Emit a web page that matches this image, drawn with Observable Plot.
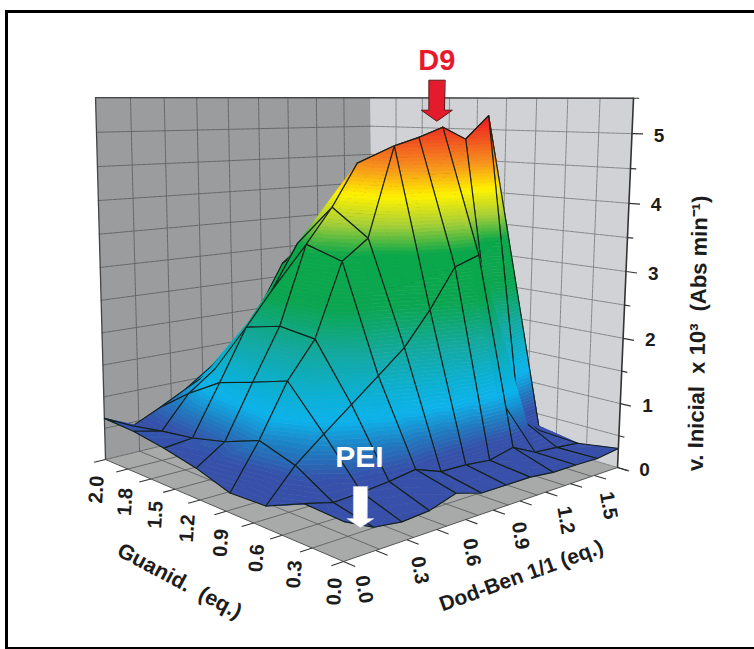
<!DOCTYPE html>
<html>
<head>
<meta charset="utf-8">
<style>html,body{margin:0;padding:0;background:#fff}svg{display:block}</style>
<script src="https://cdn.jsdelivr.net/npm/d3@7"></script>
<script src="https://cdn.jsdelivr.net/npm/@observablehq/plot@0.6"></script>
</head>
<body>
<div id="chart"></div>
<script>
// v. Inicial x 10^3; rows = Guanid. positions, columns = Dod-Ben positions
const zG0 = [.50,.31,.26,.29,.41,.30,.30,.30,.26,.26,.25,.30];
const zG1 = [.53,.43,.45,.49,.55,.41,.40,.36,.45,.27,.24,.20];
const zG2 = [.30,.74,1.07,1.39,1.71,2.04,2.52,3.09,3.22,1.00,.55,.23];
const zG3 = [.28,.91,1.66,2.18,3.23,3.52,4.82,4.93,5.07,4.88,5.23,3.38];
const zG4 = [.44,.72,1.50,2.25,3.40,3.91,4.54,4.60,4.60,4.30,4.30,2.80];
const zG5 = [.55,.60,1.35,2.12,2.63,3.30,3.45,3.90,4.10,4.10,3.90,2.50];
const zG6 = [.63,.53,1.03,1.34,1.74,2.28,2.93,3.15,3.40,3.60,3.50,2.20];
const zG7 = [.66,.44,.64,.86,1.15,1.49,2.00,2.72,3.05,3.30,3.50,2.00];
const guanidLabels = ["0.0","0.3","0.6","0.9","1.2","1.5","1.8","2.0"];
const dodLabels = ["0.0","0.3","0.6","0.9","1.2","1.5"];
const zTicks = [0,1,2,3,4,5];
const zTop = 5.5;
const colorStops = [0,.6,.85,1.2,1.5,2.0,2.6,3.3,3.7,4.1,4.5,5.2];
const colorRange = ["#3a4ea8","#3651ab","#2276bd","#0bb3ec","#0bb0d4","#12a99f","#0aa650","#0aa84a","#a9cf38","#fff200","#f7941d","#ed1c24"];

const rows = [zG0,zG1,zG2,zG3,zG4,zG5,zG6,zG7];
const nG = rows.length-1, nJ = rows[0].length-1;

// oblique perspective view of the (guanid, dod, v) box
function project(g,j,z){
  const u=j/nJ, v=g/nG, w=1+.2058*u+.215*v;
  const fx=(401*u-215.4*v+343)/w;
  const K=561+2.1*u-3.3*v, A=84.3-3.3*u-4.3*v;
  const f=z*(.94+.0108*z);
  return {x:fx+(8+8*u-18*v)*z/zTop, y:(K-A*f)/w, z};
}
function clip(poly,level,keepAbove){
  const out=[];
  for(let i=0;i<poly.length;i++){
    const a=poly[i],b=poly[(i+1)%poly.length];
    const ia=keepAbove?a.z>=level:a.z<=level, ib=keepAbove?b.z>=level:b.z<=level;
    if(ia) out.push(a);
    if(ia!==ib){const t=(level-a.z)/(b.z-a.z);out.push({x:a.x+t*(b.x-a.x),y:a.y+t*(b.y-a.y),z:level});}
  }
  return out;
}
const step=.05;
let uid=0;
function bands(tri,rowsOut){
  const lo=Math.floor(d3.min(tri,d=>d.z)/step), hi=Math.ceil(d3.max(tri,d=>d.z)/step);
  for(let b=lo;b<hi;b++){
    const a0=b*step,a1=(b+1)*step;
    let p=clip(tri,a0,true); if(p.length) p=clip(p,a1,false);
    if(p.length>2){const id=uid++;const zm=a0+step/2;p.forEach(q=>rowsOut.push({x:q.x,y:q.y,id,zm}));}
  }
}
const line=(pts,o={})=>Plot.line(pts,{x:"x",y:"y",...o});
const poly=(corners,fill)=>line(corners.map(c=>project(...c)),{fill,stroke:"none"});

const marks=[];
// walls and floor
marks.push(poly([[nG,0,0],[nG,nJ,0],[nG,nJ,zTop],[nG,0,zTop]],"#9a9c9d"));
marks.push(poly([[nG,nJ,0],[0,nJ,0],[0,nJ,zTop],[nG,nJ,zTop]],"#d0d2d5"));
marks.push(poly([[0,0,0],[0,nJ,0],[nG,nJ,0],[nG,0,0]],"#a8aaa9"));
const gridZ=d3.range(0,zTop+.01,.5), gridN=d3.range(1,9);
for(const z of gridZ){
  marks.push(line([project(nG,0,z),project(nG,nJ,z)],{stroke:"#5f6162",strokeWidth:.9,strokeDasharray:"4 1"}));
  marks.push(line([project(nG,nJ,z),project(0,nJ,z)],{stroke:"#7d7f80",strokeWidth:.9,strokeDasharray:"4 1"}));
}
for(const i of gridN){
  marks.push(line([project(nG,i/9*nJ,0),project(nG,i/9*nJ,zTop)],{stroke:"#5f6162",strokeWidth:.9,strokeDasharray:"4 1"}));
  marks.push(line([project(i/9*nG,nJ,0),project(i/9*nG,nJ,zTop)],{stroke:"#7d7f80",strokeWidth:.9,strokeDasharray:"4 1"}));
  marks.push(line([project(nG,i/9*nJ,0),project(0,i/9*nJ,0)],{stroke:"#5f6162",strokeWidth:.9}));
  marks.push(line([project(i/9*nG,nJ,0),project(i/9*nG,0,0)],{stroke:"#5f6162",strokeWidth:.9}));
}
// box edges
marks.push(line([project(nG,0,0),project(nG,0,zTop),project(nG,nJ,zTop),project(0,nJ,zTop)],{stroke:"#444",strokeWidth:1.3}));
marks.push(line([project(nG,0,0),project(0,0,0),project(0,nJ,0)],{stroke:"#555",strokeWidth:1}));
// surface, back to front
for(let g=nG-1;g>=0;g--){
  for(let j=nJ-1;j>=0;j--){
    const P=(a,b)=>project(a,b,rows[a][b]);
    const a=P(g,j),b=P(g,j+1),c=P(g+1,j+1),d=P(g+1,j);
    const cells=[];
    bands([c,d,b],cells); bands([a,b,d],cells);
    marks.push(Plot.line(cells,{x:"x",y:"y",z:"id",fill:"zm",stroke:"zm",strokeWidth:.7}));
    marks.push(line([a,b,c,d,a],{stroke:"#14201a",strokeWidth:1.15,strokeLinejoin:"round"}));
  }
}
// axes
const txt={fontFamily:"Liberation Sans, Arial, sans-serif",fontWeight:"bold",fill:"#1c1c1c"};
const zAll=d3.range(0,zTop+.01,.5);
marks.push(line([project(0,nJ,0),project(0,nJ,zTop)],{stroke:"#333",strokeWidth:1.6}));
marks.push(Plot.link(zAll,{x1:z=>project(0,nJ,z).x,y1:z=>project(0,nJ,z).y,
  x2:z=>project(Number.isInteger(z)?-.25:-.13,nJ,z).x,y2:z=>project(Number.isInteger(z)?-.25:-.13,nJ,z).y,stroke:"#333",strokeWidth:1.2}));
marks.push(Plot.text(zTicks,{x:z=>project(0,nJ,z).x,y:z=>project(0,nJ,z).y,text:z=>String(z),dx:27,dy:2,fontSize:19,...txt}));
const gTicks=d3.range(0,10).map(i=>i/9*nG), jTicks=d3.range(0,11).map(i=>i/10*nJ);
marks.push(Plot.link(gTicks,{x1:g=>project(g,0,0).x,y1:g=>project(g,0,0).y,x2:g=>project(g,-.4,0).x,y2:g=>project(g,-.4,0).y,stroke:"#333",strokeWidth:1.1}));
marks.push(Plot.link(jTicks,{x1:j=>project(0,j,0).x,y1:j=>project(0,j,0).y,x2:j=>project(-.28,j,0).x,y2:j=>project(-.28,j,0).y,stroke:"#333",strokeWidth:1.1}));
marks.push(Plot.text(guanidLabels,{x:(d,i)=>project(i,0,0).x,y:(d,i)=>project(i,0,0).y,text:d=>d,dx:-9,dy:30,rotate:-86,fontSize:20,...txt}));
marks.push(Plot.text(dodLabels,{x:(d,i)=>project(0,2*i+1,0).x,y:(d,i)=>project(0,2*i+1,0).y,text:d=>d,dx:-9,dy:38,rotate:80,fontSize:20,...txt}));
marks.push(Plot.text(["Guanid.  (eq.)"],{x:()=>project(3.6,0,0).x,y:()=>project(3.6,0,0).y,dx:-30,dy:77,text:d=>d,rotate:28,fontSize:21.5,...txt}));
marks.push(Plot.text(["Dod-Ben 1/1 (eq.)"],{x:()=>project(0,7,0).x,y:()=>project(0,7,0).y,dx:-8,dy:78,text:d=>d,rotate:-20,fontSize:21,...txt}));
marks.push(Plot.text(["v. Inicial  x 10³  (Abs min⁻¹)"],{x:()=>project(0,nJ,2.6).x,y:()=>project(0,nJ,2.6).y,dx:73,dy:35,text:d=>d,rotate:-89,fontSize:22,...txt}));

// annotations
const redArrow={draw(c,l){
  const bw=8,hw=15.5,hl=11;
  c.moveTo(-bw,0);c.lineTo(bw,0);c.lineTo(bw,-l+hl);c.lineTo(hw,-l+hl);c.lineTo(0,-l);c.lineTo(-hw,-l+hl);c.lineTo(-bw,-l+hl);c.closePath();
}};
const whiteArrow={draw(c,l){
  const bw=7,hw=13.5,hl=9;
  c.moveTo(-bw,0);c.lineTo(bw,0);c.lineTo(bw,-l+hl);c.lineTo(hw,-l+hl);c.lineTo(0,-l);c.lineTo(-hw,-l+hl);c.lineTo(-bw,-l+hl);c.closePath();
}};
const d9=project(3,8,rows[3][8]), pei=project(0,.55,.36);
marks.push(Plot.vector([d9],{x:"x",y:"y",length:41,rotate:180,anchor:"end",shape:redArrow,fill:"#e31b2d",stroke:"#5a1a1a",strokeWidth:1,dx:-6,dy:-6}));
marks.push(Plot.vector([pei],{x:"x",y:"y",length:41,rotate:180,anchor:"end",shape:whiteArrow,fill:"#fff",stroke:"#cfd3dc",strokeWidth:.6}));
marks.push(Plot.text(["D9"],{x:()=>d9.x,y:()=>d9.y,text:d=>d,dx:-6,dy:-66,fontSize:29,fontFamily:txt.fontFamily,fontWeight:"bold",fill:"#e8192c"}));
marks.push(Plot.text(["PEI"],{x:()=>pei.x,y:()=>pei.y,text:d=>d,dy:-70,dx:-1,fontSize:30,fontFamily:txt.fontFamily,fontWeight:"bold",fill:"#fff"}));
// picture border: top, left and bottom only
marks.push(Plot.ruleY([11],{x1:5,x2:754,stroke:"#000",strokeWidth:3}));
marks.push(Plot.ruleY([648],{x1:5,x2:754,stroke:"#000",strokeWidth:3}));
marks.push(Plot.ruleX([6],{y1:10,y2:649,stroke:"#000",strokeWidth:3}));

const chart=Plot.plot({
  width:754,height:649,
  marginLeft:0,marginTop:0,marginRight:0,marginBottom:0,
  style:{background:"#fff",overflow:"visible"},
  x:{axis:null,domain:[0,754],range:[0,754]},
  y:{axis:null,domain:[0,649],range:[0,649]},
  color:{type:"linear",domain:colorStops,range:colorRange,clamp:true,legend:false},
  marks
});
document.getElementById("chart").appendChild(chart);
</script>
</body>
</html>
